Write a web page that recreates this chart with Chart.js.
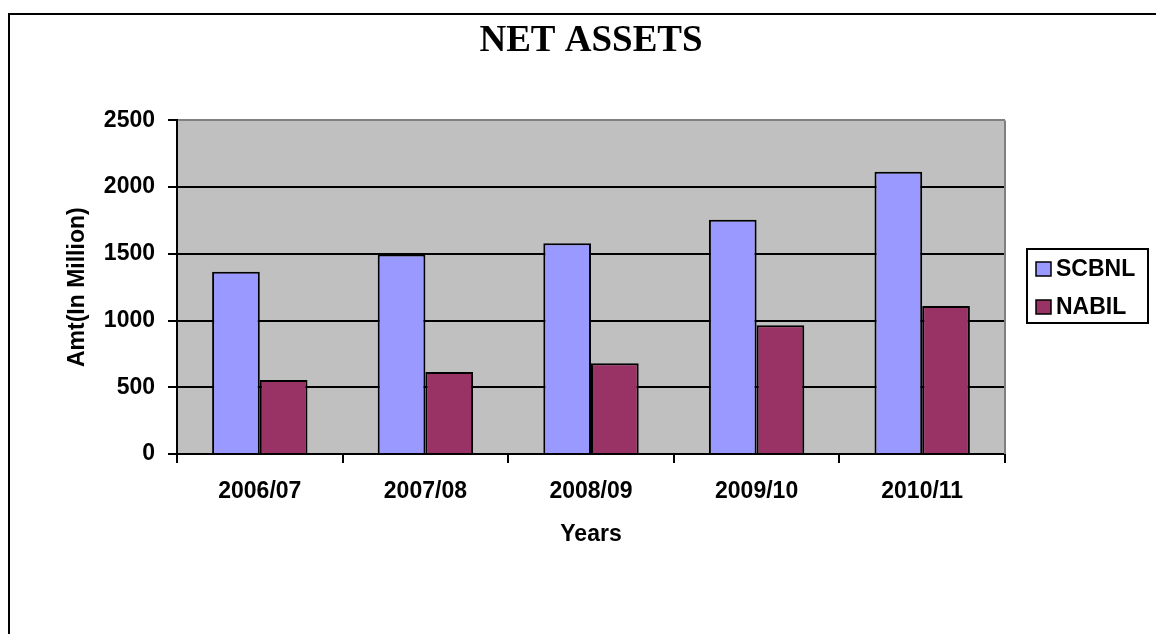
<!DOCTYPE html>
<html>
<head>
<meta charset="utf-8">
<script src="https://cdn.jsdelivr.net/npm/chart.js@4"></script>
<style>
  html, body { margin:0; padding:0; background:#fff; }
  #wrap { position:relative; width:1156px; height:634px; }
</style>
</head>
<body>
<div id="wrap"><canvas id="chart" width="1156" height="634"></canvas></div>
<script>
// Net assets, amounts in million
const years = ['2006/07', '2007/08', '2008/09', '2009/10', '2010/11'];
const scbnl = [1365, 1495, 1580, 1755, 2115];
const nabil = [555, 615, 680, 965, 1110];
const yTicks = [0, 500, 1000, 1500, 2000, 2500];

const FONT = 'Arial, "Liberation Sans", sans-serif';

// grey plot area + outer frame + grey right plot edge
const backdrop = {
  id: 'backdrop',
  beforeDraw(chart) {
    const { ctx, chartArea: a } = chart;
    ctx.save();
    ctx.strokeStyle = '#000'; ctx.lineWidth = 2;
    ctx.strokeRect(9, 14, 1300, 800);
    ctx.fillStyle = '#C0C0C0';
    ctx.fillRect(a.left, a.top, a.right - a.left, a.bottom - a.top);
    ctx.restore();
  },
  afterDatasetsDraw(chart) {
    const { ctx, chartArea: a } = chart;
    ctx.save();
    ctx.strokeStyle = '#808080'; ctx.lineWidth = 2;
    ctx.beginPath();
    ctx.moveTo(a.right, a.top); ctx.lineTo(a.right, a.bottom);
    ctx.stroke();
    ctx.restore();
  }
};

// boxed legend on the right, built from the datasets
const boxLegend = {
  id: 'boxLegend',
  afterDraw(chart) {
    const ctx = chart.ctx;
    ctx.save();
    ctx.strokeStyle = '#000'; ctx.lineWidth = 2;
    ctx.strokeRect(1027, 249, 121, 74);
    ctx.font = 'bold 23px ' + FONT;
    ctx.textBaseline = 'middle';
    ctx.textAlign = 'left';
    chart.data.datasets.forEach((ds, i) => {
      const cy = 269 + i * 38;
      ctx.fillStyle = ds.backgroundColor;
      ctx.fillRect(1036, cy - 7, 15, 14);
      ctx.lineWidth = 1.5;
      ctx.strokeRect(1036, cy - 7, 15, 14);
      ctx.fillStyle = '#000';
      ctx.fillText(ds.label, 1056, cy + 1);
    });
    ctx.restore();
  }
};

new Chart(document.getElementById('chart'), {
  type: 'bar',
  data: {
    labels: years,
    datasets: [
      { label: 'SCBNL', data: scbnl, backgroundColor: '#9999FF', borderColor: '#000', borderWidth: 2,
        categoryPercentage: 0.576, barPercentage: 1 },
      { label: 'NABIL', data: nabil, backgroundColor: '#993366', borderColor: '#000', borderWidth: 2,
        categoryPercentage: 0.576, barPercentage: 1 }
    ]
  },
  options: {
    responsive: false,
    animation: false,
    layout: { padding: { left: 0, right: 151, top: 0, bottom: 0 } },
    plugins: {
      legend: { display: false },
      tooltip: { enabled: false },
      title: {
        display: true, text: 'NET ASSETS', fullSize: false, color: '#000',
        font: { family: '"Times New Roman", "Liberation Serif", serif', size: 37, weight: 'bold' },
        padding: { top: 19, bottom: 57 }
      }
    },
    scales: {
      x: {
        grid: { display: true, drawOnChartArea: false, drawTicks: true, tickLength: 9, color: '#000', lineWidth: 2, offset: true },
        border: { display: true, color: '#000', width: 2 },
        ticks: { color: '#000', padding: 15, font: { family: FONT, size: 23, weight: 'bold' }, maxRotation: 0 },
        title: { display: true, text: 'Years', color: '#000', padding: { top: 0, bottom: 86 },
          font: { family: FONT, size: 23, weight: 'bold' } },
        afterFit(s) { s.height = 180; }
      },
      y: {
        min: 0, max: 2500,
        afterBuildTicks(s) { s.ticks = yTicks.map(v => ({ value: v })); },
        grid: {
          color: ctx => (ctx.tick && ctx.tick.value === 2500 ? '#808080' : '#000'),
          tickColor: '#000', lineWidth: 2, tickLength: 9, drawTicks: true
        },
        border: { display: true, color: '#000', width: 2 },
        ticks: { color: '#000', padding: 13, font: { family: FONT, size: 23, weight: 'bold' },
          callback: v => String(v) },
        title: { display: true, text: 'Amt(In Million)', color: '#000', padding: { top: 64, bottom: 0 },
          font: { family: FONT, size: 23, weight: 'bold' } },
        afterFit(s) { s.width = 177; }
      }
    }
  },
  plugins: [backdrop, boxLegend]
});
</script>
</body>
</html>
